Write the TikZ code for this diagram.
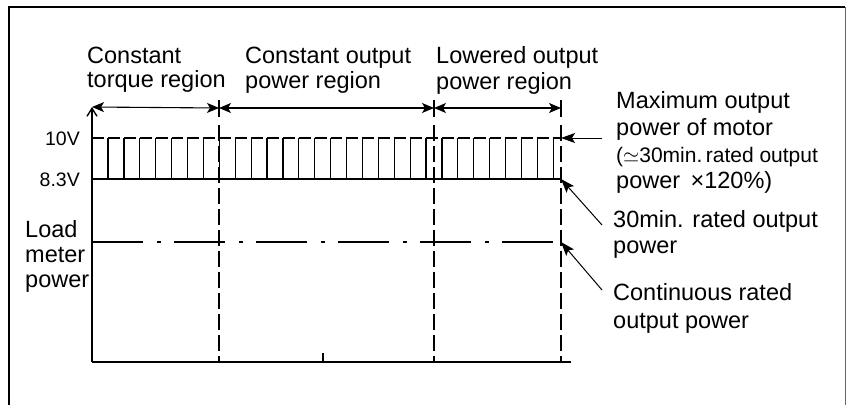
\documentclass[tikz,border=0pt]{standalone}
\usepackage{fontspec}
\setmainfont{Liberation Sans}
\usetikzlibrary{arrows.meta}
\begin{document}
\begin{tikzpicture}[x=1pt,y=-1pt,
  lbl/.style={inner sep=0pt,anchor=base west,font=\fontsize{23.5}{27}\selectfont},
  lblsmall/.style={inner sep=0pt,anchor=base west,font=\fontsize{21}{25}\selectfont},
  vlbl/.style={inner sep=0pt,anchor=base east,font=\fontsize{19.5}{22}\selectfont},
  ax/.style={line width=1.2pt},
  dim/.style={line width=1.1pt,{Stealth[length=12pt,width=10pt,inset=3pt]}-{Stealth[length=12pt,width=10pt,inset=3pt]}},
  ptr/.style={line width=1pt,-{Stealth[length=14pt,width=10pt,inset=3pt]}},
  divline/.style={line width=1.1pt,dash pattern=on 16pt off 5pt}]
\useasboundingbox (0,0) rectangle (848,405);
% frame
\draw[line width=1.8pt] (9,405) -- (9,7) -- (845,7);
\draw[line width=1pt,black!60] (845,7) -- (845,405);
% axes
\coordinate (O) at (92,362);
\coordinate (ytop) at (92,107);
\coordinate (xend) at (571,362);
\draw[ax,-{Straight Barb[length=8pt,width=10pt,line width=1.4pt]}] (O) -- (ytop);
\draw[ax] (O) -- (xend);
\coordinate (tk) at (323,353);
\draw[ax] (tk) -- (323,362);
% division lines
\foreach \n/\x in {d1/219,d2/434,d3/561}{
  \coordinate (\n t) at (\x,100);
  \coordinate (\n m) at (\x,108);
  \draw[ax] (\n t) -- (\x,117);
  \draw[divline] (\x,125) -- (\x,362);
}
% dimension arrows
\draw[dim] (ytop) -- (d1m);
\draw[dim] (d1m) -- (d2m);
\draw[dim] (d2m) -- (d3m);
% pulse band
\coordinate (top0) at (92,138);
\coordinate (top1) at (561,138);
\coordinate (mid0) at (92,179);
\coordinate (mid1) at (561,179);
\draw[ax,dash pattern=on 11.9pt off 4pt] (top0) -- (top1);
\draw[ax] (mid0) -- (mid1);
\foreach \k in {0,...,28}{
  \draw[ax] ({108+15.9*\k},138) -- ({108+15.9*\k},179);
}
% load meter line
\coordinate (lm0) at (92,242);
\coordinate (lm1) at (561,242);
\draw[ax,dash pattern=on 51pt off 14pt on 4pt off 13pt] (lm0) -- (lm1);
% axis labels
\node[vlbl] (v10) at (80,145) {10V};
\node[vlbl] (v83) at (80,186.5) {8.3V};
\node[lbl] (lm1t) at (25,237) {Load};
\node[lbl] (lm2t) at (25,262) {meter};
\node[lbl] (lm3t) at (25,287) {power};
% region labels
\node[lbl] (r1a) at (87,63) {Constant};
\node[lbl] (r1b) at (87,87) {torque region};
\node[lbl] (r2a) at (245,63) {Constant output};
\node[lbl] (r2b) at (245,88) {power region};
\node[lbl] (r3a) at (436,63) {Lowered output};
\node[lbl] (r3b) at (436,89) {power region};
% right labels
\node[lbl] (m1) at (616,108) {Maximum output};
\node[lbl] (m2) at (616,135) {power of motor};
\node[lblsmall] (m3) at (616,162) {($\simeq$30min.\,rated output};
\node[lbl] (m4) at (616,188) {power \,×120\%)};
\node[lbl] (s1) at (613,227) {30min. rated output};
\node[lbl] (s2) at (613,253) {power};
\node[lbl] (c1) at (613,300) {Continuous rated};
\node[lbl] (c2) at (613,328) {output power};
% pointers
\coordinate (pa) at (602,138);
\coordinate (pb) at (602,225);
\coordinate (pc) at (602,290);
\draw[ptr] (pa) -- (top1);
\draw[ptr] (pb) -- (mid1);
\draw[ptr] (pc) -- (lm1);
\end{tikzpicture}
\end{document}
